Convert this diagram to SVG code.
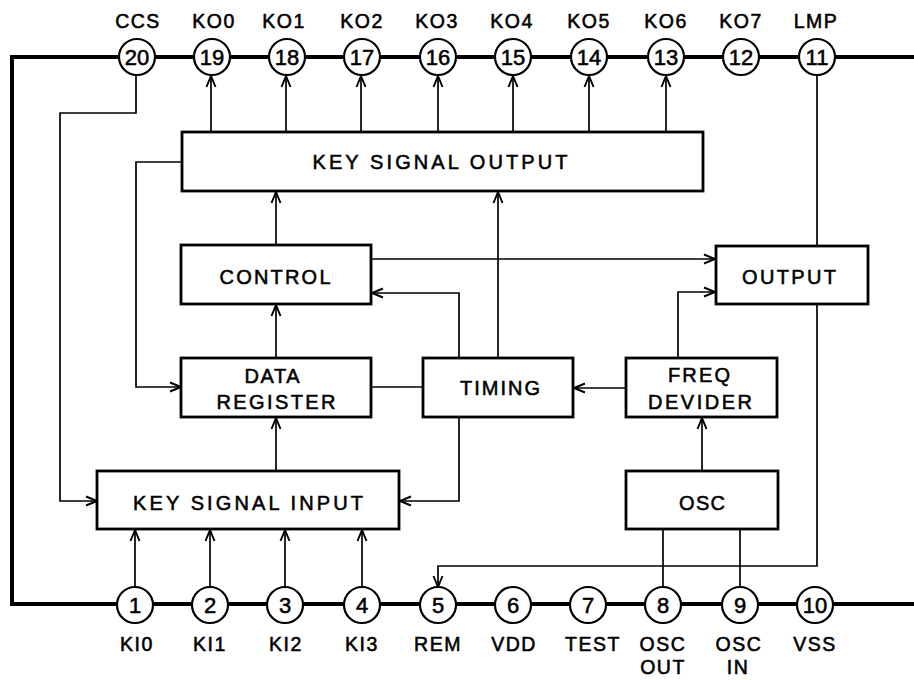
<svg xmlns="http://www.w3.org/2000/svg" width="914" height="680" viewBox="0 0 914 680">
<style>
.bus{fill:none;stroke:#000;stroke-width:4}
.box{fill:#fff;stroke:#000;stroke-width:2.8}
.pin{fill:#fff;stroke:#000;stroke-width:2.2}
.wire{fill:none;stroke:#000;stroke-width:1.7}
text{font-family:"Liberation Sans",Arial,sans-serif;fill:#000;stroke:#000;stroke-width:0.55;text-anchor:middle}
.bl{font-size:20px}
.pl{font-size:19.5px;letter-spacing:1.5px}
.num{font-size:22px}
</style>
<defs>
<marker id="ah" viewBox="-13 -7 15 14" markerWidth="15" markerHeight="14" refX="0" refY="0" orient="auto" markerUnits="userSpaceOnUse">
<path d="M-11,-4.5 L0,0 L-11,4.5" fill="none" stroke="#000" stroke-width="1.9"/>
</marker>
</defs>
<rect width="914" height="680" fill="#fff"/>

<path id="bus" class="bus" d="M914,57 H12 V604 H914"/>

<g id="connectors" class="wire">
<path d="M211,132 V76" marker-end="url(#ah)"/>
<path d="M286,132 V76" marker-end="url(#ah)"/>
<path d="M361,132 V76" marker-end="url(#ah)"/>
<path d="M438,132 V76" marker-end="url(#ah)"/>
<path d="M513,132 V76" marker-end="url(#ah)"/>
<path d="M589,132 V76" marker-end="url(#ah)"/>
<path d="M666,132 V76" marker-end="url(#ah)"/>
<path d="M136,75 V113 H60 V501 H97" marker-end="url(#ah)"/>
<path d="M182,162 H136 V387 H181" marker-end="url(#ah)"/>
<path d="M276,471 V418" marker-end="url(#ah)"/>
<path d="M276,358 V305" marker-end="url(#ah)"/>
<path d="M276,245 V192" marker-end="url(#ah)"/>
<path d="M371,259 H715" marker-end="url(#ah)"/>
<path d="M459,358 V293 H372" marker-end="url(#ah)"/>
<path d="M498,358 V192" marker-end="url(#ah)"/>
<path d="M371,387 H423"/>
<path d="M626,388 H574" marker-end="url(#ah)"/>
<path d="M678,358 V292 H715" marker-end="url(#ah)"/>
<path d="M702,471 V418" marker-end="url(#ah)"/>
<path d="M459,417 V501 H400" marker-end="url(#ah)"/>
<path d="M817,75 V246"/>
<path d="M817,304 V566 H438 V587" marker-end="url(#ah)"/>
<path d="M663,529 V587"/>
<path d="M740,529 V587"/>
<path d="M135,587 V530" marker-end="url(#ah)"/>
<path d="M210,587 V530" marker-end="url(#ah)"/>
<path d="M285,587 V530" marker-end="url(#ah)"/>
<path d="M362,587 V530" marker-end="url(#ah)"/>
</g>

<g id="key-signal-output"><rect class="box" x="182" y="132" width="521" height="59"/><text class="bl" x="440" y="169" textLength="255" lengthAdjust="spacing">KEY SIGNAL OUTPUT</text></g>
<g id="control"><rect class="box" x="181" y="245" width="190" height="59"/><text class="bl" x="275" y="284" textLength="111" lengthAdjust="spacing">CONTROL</text></g>
<g id="data-register"><rect class="box" x="181" y="358" width="190" height="59"/><text class="bl" x="272" y="383" textLength="55" lengthAdjust="spacing">DATA</text><text class="bl" x="276" y="409" textLength="119" lengthAdjust="spacing">REGISTER</text></g>
<g id="timing"><rect class="box" x="423" y="358" width="150" height="59"/><text class="bl" x="500" y="395" textLength="80" lengthAdjust="spacing">TIMING</text></g>
<g id="freq-devider"><rect class="box" x="626" y="358" width="151" height="59"/><text class="bl" x="699" y="382" textLength="62" lengthAdjust="spacing">FREQ</text><text class="bl" x="700" y="409" textLength="104" lengthAdjust="spacing">DEVIDER</text></g>
<g id="output"><rect class="box" x="716" y="246" width="152" height="58"/><text class="bl" x="789" y="284" textLength="94" lengthAdjust="spacing">OUTPUT</text></g>
<g id="key-signal-input"><rect class="box" x="97" y="471" width="302" height="58"/><text class="bl" x="248" y="510" textLength="230" lengthAdjust="spacing">KEY SIGNAL INPUT</text></g>
<g id="osc"><rect class="box" x="626" y="471" width="152" height="58"/><text class="bl" x="702" y="510" textLength="46" lengthAdjust="spacing">OSC</text></g>

<g id="pin20"><circle class="pin" cx="137" cy="57" r="18"/><text class="num" x="137" y="65">20</text><text class="pl" x="138" y="28">CCS</text></g>
<g id="pin19"><circle class="pin" cx="212" cy="57" r="18"/><text class="num" x="212" y="65">19</text><text class="pl" x="214" y="28">KO0</text></g>
<g id="pin18"><circle class="pin" cx="287" cy="57" r="18"/><text class="num" x="287" y="65">18</text><text class="pl" x="284" y="28">KO1</text></g>
<g id="pin17"><circle class="pin" cx="362" cy="57" r="18"/><text class="num" x="362" y="65">17</text><text class="pl" x="362" y="28">KO2</text></g>
<g id="pin16"><circle class="pin" cx="438" cy="57" r="18"/><text class="num" x="438" y="65">16</text><text class="pl" x="437" y="28">KO3</text></g>
<g id="pin15"><circle class="pin" cx="513" cy="57" r="18"/><text class="num" x="513" y="65">15</text><text class="pl" x="512" y="28">KO4</text></g>
<g id="pin14"><circle class="pin" cx="589" cy="57" r="18"/><text class="num" x="589" y="65">14</text><text class="pl" x="589" y="28">KO5</text></g>
<g id="pin13"><circle class="pin" cx="666" cy="57" r="18"/><text class="num" x="666" y="65">13</text><text class="pl" x="666" y="28">KO6</text></g>
<g id="pin12"><circle class="pin" cx="741" cy="57" r="18"/><text class="num" x="741" y="65">12</text><text class="pl" x="741" y="28">KO7</text></g>
<g id="pin11"><circle class="pin" cx="817" cy="57" r="18"/><text class="num" x="817" y="65">11</text><text class="pl" x="816" y="28">LMP</text></g>

<g id="pin1"><circle class="pin" cx="135" cy="605" r="18"/><text class="num" x="135" y="613">1</text><text class="pl" x="137" y="651">KI0</text></g>
<g id="pin2"><circle class="pin" cx="210" cy="605" r="18"/><text class="num" x="210" y="613">2</text><text class="pl" x="210" y="651">KI1</text></g>
<g id="pin3"><circle class="pin" cx="285" cy="605" r="18"/><text class="num" x="285" y="613">3</text><text class="pl" x="286" y="651">KI2</text></g>
<g id="pin4"><circle class="pin" cx="362" cy="605" r="18"/><text class="num" x="362" y="613">4</text><text class="pl" x="362" y="651">KI3</text></g>
<g id="pin5"><circle class="pin" cx="438" cy="605" r="18"/><text class="num" x="438" y="613">5</text><text class="pl" x="438" y="651">REM</text></g>
<g id="pin6"><circle class="pin" cx="513" cy="605" r="18"/><text class="num" x="513" y="613">6</text><text class="pl" x="514" y="651">VDD</text></g>
<g id="pin7"><circle class="pin" cx="588" cy="605" r="18"/><text class="num" x="588" y="613">7</text><text class="pl" x="593" y="651">TEST</text></g>
<g id="pin8"><circle class="pin" cx="663" cy="605" r="18"/><text class="num" x="663" y="613">8</text><text class="pl" x="663" y="651">OSC</text><text class="pl" x="663" y="674">OUT</text></g>
<g id="pin9"><circle class="pin" cx="740" cy="605" r="18"/><text class="num" x="740" y="613">9</text><text class="pl" x="739" y="651">OSC</text><text class="pl" x="738" y="674">IN</text></g>
<g id="pin10"><circle class="pin" cx="815" cy="605" r="18"/><text class="num" x="815" y="613">10</text><text class="pl" x="815" y="651">VSS</text></g>
</svg>
